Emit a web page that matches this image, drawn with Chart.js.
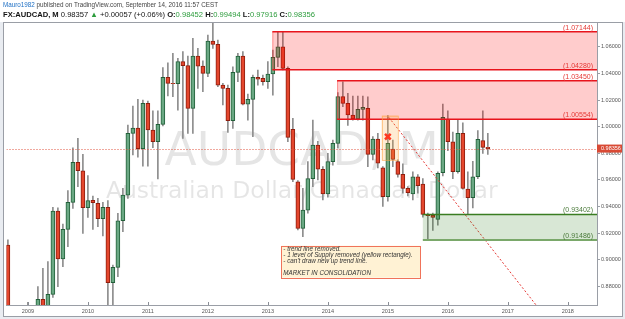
<!DOCTYPE html>
<html>
<head>
<meta charset="utf-8">
<script src="https://cdn.jsdelivr.net/npm/chart.js@4.4.0/dist/chart.umd.min.js"></script>
<style>
  html, body { margin: 0; padding: 0; background: #fff; }
  #wrap { position: relative; width: 625px; height: 319px; overflow: hidden; }
  #chart { position: absolute; left: 0; top: 0; }
  .hdr { position: absolute; left: 3px; white-space: nowrap; font-family: "Liberation Sans", Arial, sans-serif; }
  #hdr1 { top: 1px; font-size: 6.3px; color: #444; }
  #hdr2 { top: 10px; font-size: 7.6px; color: #111; }
  .user { color: #1e6fc4; }
  .up { color: #2c9c3c; }
</style>
</head>
<body>
<div id="wrap">
  <canvas id="chart" width="625" height="319"></canvas>
  <div class="hdr" id="hdr1"><span class="user">Mauro1982</span> published on TradingView.com, September 14, 2016 11:57 CEST</div>
  <div class="hdr" id="hdr2"><b>FX:AUDCAD, M</b> 0.98357 <span class="up">▲</span> +0.00057 (+0.06%) <b>O:</b><span class="up">0.98452</span> <b>H:</b><span class="up">0.99494</span> <b>L:</b><span class="up">0.97916</span> <b>C:</b><span class="up">0.98356</span></div>
</div>
<script>
// --- datos mensuales AUDCAD ---
const months = [
  '2008-09','2008-10','2008-11','2008-12',
  '2009-01','2009-02','2009-03','2009-04','2009-05','2009-06','2009-07','2009-08','2009-09','2009-10','2009-11','2009-12',
  '2010-01','2010-02','2010-03','2010-04','2010-05','2010-06','2010-07','2010-08','2010-09','2010-10','2010-11','2010-12',
  '2011-01','2011-02','2011-03','2011-04','2011-05','2011-06','2011-07','2011-08','2011-09','2011-10','2011-11','2011-12',
  '2012-01','2012-02','2012-03','2012-04','2012-05','2012-06','2012-07','2012-08','2012-09','2012-10','2012-11','2012-12',
  '2013-01','2013-02','2013-03','2013-04','2013-05','2013-06','2013-07','2013-08','2013-09','2013-10','2013-11','2013-12',
  '2014-01','2014-02','2014-03','2014-04','2014-05','2014-06','2014-07','2014-08','2014-09','2014-10','2014-11','2014-12',
  '2015-01','2015-02','2015-03','2015-04','2015-05','2015-06','2015-07','2015-08','2015-09','2015-10','2015-11','2015-12',
  '2016-01','2016-02','2016-03','2016-04','2016-05','2016-06','2016-07','2016-08','2016-09'
];
const opens = [
  0.911, 0.842, 0.800, 0.808,
  0.855, 0.795, 0.810, 0.8702, 0.8645, 0.8739, 0.9366, 0.9005, 0.9228, 0.9431, 0.9732, 0.9669,
  0.9391, 0.9446, 0.9424, 0.9308, 0.9393, 0.8827, 0.8942, 0.9293, 0.9486, 0.9950, 0.9990, 0.9835,
  1.0175, 0.9975, 0.9887, 1.0018, 1.0371, 1.0326, 1.0324, 1.0489, 1.0459, 1.0138, 1.0531, 1.0456,
  1.0401, 1.0644, 1.0619, 1.0313, 1.0288, 1.0045, 1.0409, 1.0531, 1.0170, 1.0206, 1.0371, 1.0363,
  1.0338, 1.0396, 1.0521, 1.0601, 1.0439, 0.9980, 0.9586, 0.9236, 0.9373, 0.9609, 0.9862, 0.9680,
  0.9494, 0.9737, 0.9875, 1.0226, 1.0175, 1.0088, 1.0058, 1.0130, 1.0138, 0.9792, 0.9907, 0.9690,
  0.9474, 0.9832, 0.9737, 0.9642, 0.9536, 0.9494, 0.9624, 0.9569, 0.9341, 0.9336, 0.9303, 0.9654,
  1.0058, 0.9887, 0.9662, 0.9950, 0.9531, 0.9466, 0.9624, 0.9895, 0.98452
];
const highs = [
  0.915, 0.862, 0.835, 0.862,
  0.868, 0.830, 0.8797, 0.8935, 0.8985, 0.9393, 0.9390, 0.9268, 0.9519, 0.9842, 0.9912, 0.9792,
  0.9632, 0.9478, 0.9461, 0.9431, 0.9444, 0.8960, 0.9348, 0.9536, 1.0013, 1.0155, 1.0206, 1.0200,
  1.0193, 1.0120, 1.0120, 1.0444, 1.0481, 1.0551, 1.0514, 1.0564, 1.0531, 1.0664, 1.0589, 1.0496,
  1.0689, 1.0785, 1.0652, 1.0326, 1.0313, 1.0451, 1.0551, 1.0564, 1.0246, 1.0388, 1.0426, 1.0388,
  1.0489, 1.0577, 1.0714, 1.0714, 1.0451, 1.0063, 0.9594, 0.9536, 0.9737, 1.0050, 0.9890, 0.9700,
  0.9800, 0.9900, 1.0256, 1.0338, 1.0250, 1.0230, 1.0230, 1.0230, 1.0225, 0.9925, 0.9950, 0.9700,
  1.0083, 0.9900, 0.9750, 0.9720, 0.9550, 0.9660, 0.9640, 0.9610, 0.9350, 0.9350, 0.9660, 1.0170,
  1.0120, 0.9960, 1.0050, 1.0030, 0.9660, 0.9740, 0.9970, 1.0120, 0.99494
];
const lows = [
  0.835, 0.770, 0.770, 0.785,
  0.788, 0.775, 0.795, 0.850, 0.855, 0.8717, 0.8797, 0.8947, 0.9098, 0.9386, 0.9549, 0.9198,
  0.9318, 0.9228, 0.9248, 0.9178, 0.8600, 0.8620, 0.8872, 0.9211, 0.9461, 0.9787, 0.9770, 0.9704,
  0.9704, 0.9842, 0.9607, 1.0005, 1.0231, 1.0226, 1.0125, 0.9912, 0.9950, 0.9950, 1.0288, 1.0263,
  1.0376, 1.0589, 1.0301, 1.0163, 0.9957, 0.9987, 1.0338, 1.0163, 1.0050, 0.9925, 1.0313, 1.0313,
  1.0288, 1.0238, 1.0451, 1.0426, 0.9887, 0.9586, 0.9223, 0.9173, 0.9350, 0.9549, 0.9600, 0.9450,
  0.9470, 0.9710, 0.9840, 1.0150, 1.0010, 1.0050, 1.0050, 1.0050, 0.9700, 0.9750, 0.9690, 0.9400,
  0.9440, 0.9700, 0.9620, 0.9500, 0.9480, 0.9450, 0.9500, 0.9320, 0.9149, 0.9220, 0.9260, 0.9630,
  0.9820, 0.9610, 0.9650, 0.9530, 0.9340, 0.9390, 0.9610, 0.9800, 0.97916
];
const closes = [
  0.842, 0.800, 0.808, 0.855,
  0.795, 0.810, 0.8702, 0.8645, 0.8739, 0.9366, 0.9005, 0.9228, 0.9431, 0.9732, 0.9669, 0.9391,
  0.9444, 0.9429, 0.9308, 0.9393, 0.8827, 0.8942, 0.9293, 0.9486, 0.9950, 0.9990, 0.9835, 1.0175,
  0.9975, 0.9887, 1.0018, 1.0371, 1.0326, 1.0324, 1.0489, 1.0459, 1.0138, 1.0531, 1.0456, 1.0401,
  1.0644, 1.0619, 1.0313, 1.0288, 1.0045, 1.0409, 1.0531, 1.0170, 1.0206, 1.0371, 1.0358, 1.0338,
  1.0396, 1.0521, 1.0601, 1.0439, 0.9920, 0.9604, 0.9236, 0.9373, 0.9609, 0.9862, 0.9680, 0.9494,
  0.9737, 0.9875, 1.0226, 1.0175, 1.0088, 1.0058, 1.0130, 1.0145, 0.9792, 0.9907, 0.9725, 0.9474,
  0.9875, 0.9754, 0.9642, 0.9536, 0.9504, 0.9624, 0.9556, 0.9341, 0.9331, 0.9318, 0.9649, 1.0070,
  0.9887, 0.9662, 0.9950, 0.9536, 0.9466, 0.9624, 0.9905, 0.9845, 0.98356
];
const yearTicks = [2009, 2010, 2011, 2012, 2013, 2014, 2015, 2016, 2017, 2018];
const priceTicks = [0.88, 0.90, 0.92, 0.94, 0.96, 0.98, 1.00, 1.02, 1.04, 1.06];
const lastPrice = 0.98356;

// zonas dibujadas (precios), inicio en meses desde ene-2009
const supplyZones = [[1.07144, 1.04280], [1.03450, 1.00554]];
const supplyStart = [48.9, 61.85];
const demandZone = [0.93402, 0.91486];
const demandStart = 79.0;
const removedBox = { x: [70.8, 74.0], y: [1.0083, 0.9750] };
const trendLine = [{ x: 72.2, y: 1.007 }, { x: 101.8, y: 0.8652 }];
const crossMark = [{ x: 72.0, y: 0.9925 }];
const noteBox = { x: [50.7, 78.45], y: [0.9105, 0.8865] };
const notes = [
  '- trend line removed.',
  '- 1 level of Supply removed (yellow rectangle).',
  "- can't draw new up trend line.",
  '',
  'MARKET IN CONSOLIDATION'
];
const watermark = ['AUDCAD, M', 'Australian Dollar/Canadian Dollar'];

// --- helpers ---
function monthIndex(s) {
  const [y, m] = s.split('-').map(Number);
  return (y - 2009) * 12 + (m - 1);
}
const GREEN = '#6aa883', GREEN_B = '#23603a', RED = '#e4472e', RED_B = '#8f1e0e';
const up = closes.map((c, i) => c >= opens[i]);

const drawings = {
  id: 'drawings',
  beforeDraw(chart) {
    const { ctx, width, height } = chart;
    ctx.save();
    ctx.fillStyle = '#fff';
    ctx.fillRect(0, 0, width, height);
    ctx.fillStyle = '#e9ecf1';
    ctx.fillRect(0, 22, 3, height - 22);
    ctx.fillRect(623, 22, 2, height - 22);
    ctx.fillRect(0, 317, width, 2);
    ctx.restore();
  },
  beforeDatasetsDraw(chart) {
    const { ctx, chartArea: a } = chart;
    const cx = (a.left + a.right) / 2;
    ctx.save();
    ctx.fillStyle = 'rgba(0,0,0,0.1)';
    ctx.textAlign = 'center';
    ctx.textBaseline = 'alphabetic';
    ctx.font = '47px "DejaVu Sans"';
    ctx.fillText(watermark[0], cx, 165);
    ctx.font = '23.5px "DejaVu Sans"';
    ctx.fillText(watermark[1], cx, 198);
    ctx.restore();
  },
  afterDatasetsDraw(chart) {
    const { ctx, chartArea: a, scales: { x, y } } = chart;
    ctx.save();
    ctx.beginPath();
    ctx.rect(a.left, a.top, a.right - a.left, a.bottom - a.top);
    ctx.clip();

    const level = (v, x0, color, w, lc) => {
      const py = y.getPixelForValue(v);
      ctx.strokeStyle = color;
      ctx.lineWidth = w;
      ctx.beginPath();
      ctx.moveTo(x0, py);
      ctx.lineTo(a.right, py);
      ctx.stroke();
      ctx.fillStyle = lc;
      ctx.font = '7px "Liberation Sans"';
      ctx.textAlign = 'right';
      ctx.textBaseline = 'alphabetic';
      ctx.fillText('(' + v.toFixed(5) + ')', a.right - 4, py - 2);
    };

    // zonas de oferta
    supplyZones.forEach((z, i) => {
      const x0 = x.getPixelForValue(supplyStart[i]);
      const y0 = y.getPixelForValue(z[0]), y1 = y.getPixelForValue(z[1]);
      ctx.fillStyle = 'rgba(255,0,0,0.2)';
      ctx.fillRect(x0, y0, a.right - x0, y1 - y0);
      ctx.strokeStyle = 'rgba(255,60,60,0.45)';
      ctx.lineWidth = 1;
      ctx.beginPath(); ctx.moveTo(x0 + 0.5, y0); ctx.lineTo(x0 + 0.5, y1); ctx.stroke();
      level(z[0], x0, '#e8141c', 1.5, '#e53935');
      level(z[1], x0, '#e8141c', 1.5, '#e53935');
    });

    // zona de demanda
    const dx0 = x.getPixelForValue(demandStart);
    const dy0 = y.getPixelForValue(demandZone[0]), dy1 = y.getPixelForValue(demandZone[1]);
    ctx.fillStyle = 'rgba(40,120,20,0.18)';
    ctx.fillRect(dx0, dy0, a.right - dx0, dy1 - dy0);
    level(demandZone[0], dx0, '#3a7d22', 1.5, '#4a7a3a');
    level(demandZone[1], dx0, '#7aa86a', 2, '#4a7a3a');

    // rectangulo amarillo
    const rx0 = x.getPixelForValue(removedBox.x[0]), rx1 = x.getPixelForValue(removedBox.x[1]);
    const ry0 = y.getPixelForValue(removedBox.y[0]), ry1 = y.getPixelForValue(removedBox.y[1]);
    ctx.fillStyle = 'rgba(255,170,60,0.22)';
    ctx.fillRect(rx0, ry0, rx1 - rx0, ry1 - ry0);
    ctx.strokeStyle = 'rgba(255,160,60,0.6)';
    ctx.lineWidth = 1;
    ctx.strokeRect(rx0 + 0.5, ry0 + 0.5, rx1 - rx0, ry1 - ry0);

    // linea de precio actual
    const py = Math.round(y.getPixelForValue(lastPrice)) + 0.5;
    ctx.strokeStyle = '#e0533f';
    ctx.lineWidth = 1;
    ctx.setLineDash([1, 2]);
    ctx.beginPath(); ctx.moveTo(a.left, py); ctx.lineTo(a.right, py); ctx.stroke();
    ctx.setLineDash([]);
    ctx.restore();
  },
  afterDraw(chart) {
    const { ctx, chartArea: a, scales: { x, y } } = chart;
    ctx.save();
    // marcas del eje de tiempo
    ctx.strokeStyle = '#8a8e96';
    ctx.lineWidth = 1;
    yearTicks.forEach(yr => {
      const px = Math.round(x.getPixelForValue((yr - 2009) * 12)) + 0.5;
      ctx.beginPath(); ctx.moveTo(px, a.bottom); ctx.lineTo(px, a.bottom - 3); ctx.stroke();
    });

    // etiqueta de precio
    const py = y.getPixelForValue(lastPrice);
    ctx.fillStyle = '#d94a35';
    ctx.fillRect(a.right, py - 4, 26, 8);
    ctx.fillStyle = '#fff';
    ctx.font = '5.5px "Liberation Sans"';
    ctx.textAlign = 'left';
    ctx.textBaseline = 'middle';
    ctx.fillText(lastPrice.toFixed(5), a.right + 4, py);

    // nota
    const bx0 = x.getPixelForValue(noteBox.x[0]), bx1 = x.getPixelForValue(noteBox.x[1]);
    const by0 = y.getPixelForValue(noteBox.y[0]), by1 = y.getPixelForValue(noteBox.y[1]);
    ctx.fillStyle = '#fff2d4';
    ctx.fillRect(bx0, by0, bx1 - bx0, by1 - by0);
    ctx.strokeStyle = '#f0735a';
    ctx.strokeRect(Math.round(bx0) + 0.5, Math.round(by0) + 0.5, Math.round(bx1 - bx0), Math.round(by1 - by0));
    ctx.fillStyle = '#333';
    ctx.font = 'italic 6.3px "Liberation Sans"';
    ctx.textBaseline = 'middle';
    notes.forEach((t, i) => ctx.fillText(t, bx0 + 2, by0 + 3.5 + i * 6.1));

    // marco
    ctx.strokeStyle = '#9a9ea6';
    ctx.strokeRect(3.5, 22.5, 619, 294);
    ctx.restore();
  }
};

const chart = new Chart(document.getElementById('chart'), {
  type: 'bar',
  data: {
    datasets: [
      {
        type: 'line', data: trendLine, borderColor: '#e53935', borderWidth: 1,
        borderDash: [2, 2], pointRadius: 0, order: 0
      },
      {
        type: 'scatter', data: crossMark, pointStyle: 'crossRot', pointRadius: 4,
        borderWidth: 2.5, borderColor: '#ff1a1a', backgroundColor: '#ff1a1a', order: 0
      },
      {
        label: 'body',
        data: months.map((m, i) => ({ x: monthIndex(m), y: [opens[i], closes[i]] })),
        backgroundColor: up.map(u => u ? GREEN : RED),
        borderColor: up.map(u => u ? GREEN_B : RED_B),
        borderWidth: 1, borderSkipped: false, barThickness: 4, grouped: false, order: 1
      },
      {
        label: 'wick',
        data: months.map((m, i) => ({ x: monthIndex(m), y: [lows[i], highs[i]] })),
        backgroundColor: '#8d8d8d', barThickness: 1, grouped: false, order: 2
      }
    ]
  },
  options: {
    responsive: false,
    animation: false,
    events: [],
    layout: { padding: { left: 4, right: 2, top: 23, bottom: 2 } },
    plugins: { legend: { display: false }, tooltip: { enabled: false } },
    scales: {
      x: {
        type: 'linear', min: -4.28, max: 113.84, offset: false,
        afterBuildTicks: s => { s.ticks = yearTicks.map(yr => ({ value: (yr - 2009) * 12 })); },
        afterFit: s => { s.height = 12; },
        grid: { display: true, drawOnChartArea: false, drawTicks: false, offset: false },
        border: { display: true, color: '#9a9ea6' },
        ticks: {
          autoSkip: false, maxRotation: 0, padding: 3, color: '#555',
          font: { family: 'Liberation Sans', size: 5.5 },
          callback: v => String(2009 + v / 12)
        }
      },
      y: {
        type: 'linear', position: 'right', min: 0.86594, max: 1.07797,
        afterBuildTicks: s => { s.ticks = priceTicks.map(v => ({ value: v })); },
        afterFit: s => { s.width = 26; },
        grid: { display: true, drawOnChartArea: false, drawTicks: true, tickLength: 3, color: '#9a9ea6' },
        border: { display: true, color: '#9a9ea6' },
        ticks: {
          padding: 1, color: '#555',
          font: { family: 'Liberation Sans', size: 5.5 },
          callback: v => v.toFixed(5)
        }
      }
    }
  },
  plugins: [drawings]
});
</script>
</body>
</html>
